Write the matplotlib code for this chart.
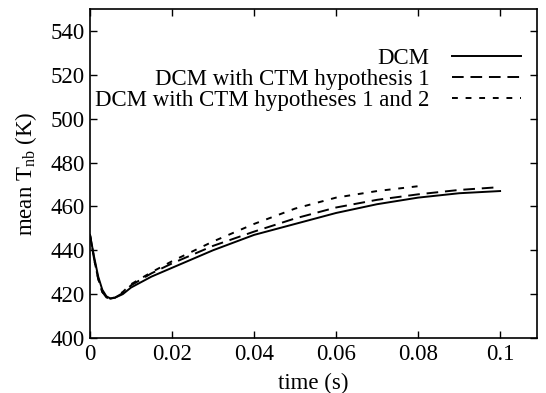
import matplotlib
matplotlib.use("Agg")
import matplotlib.pyplot as plt
import numpy as np

plt.rcParams['font.family'] = ['Liberation Serif', 'DejaVu Serif']
plt.rcParams['mathtext.fontset'] = 'custom'
plt.rcParams['mathtext.rm'] = 'Liberation Serif'
plt.rcParams['mathtext.it'] = 'Liberation Serif:italic'

t_dcm = [0, 0.001, 0.002, 0.003, 0.004, 0.005, 0.006, 0.008, 0.010, 0.015, 0.020,
         0.030, 0.040, 0.050, 0.060, 0.070, 0.080, 0.090, 0.100]
T_dcm = [447, 437, 428, 422, 419, 418, 418.3, 420, 423, 428, 432,
         440, 447, 452, 457, 461, 464, 466, 467]

t_h1 = [0, 0.001, 0.002, 0.003, 0.004, 0.005, 0.006, 0.008, 0.010, 0.015, 0.020,
        0.030, 0.040, 0.050, 0.060, 0.070, 0.080, 0.090, 0.100]
T_h1 = [447, 436, 427, 421, 418.5, 417.8, 418.3, 420.5, 424, 429.5, 434,
        442, 448.5, 454.5, 459.5, 463, 465.5, 467.5, 468.8]

t_h12 = [0, 0.001, 0.002, 0.003, 0.004, 0.005, 0.006, 0.008, 0.010, 0.015, 0.020,
         0.030, 0.040, 0.050, 0.060, 0.070, 0.080]
T_h12 = [447, 436, 427, 421, 418.5, 418, 418.5, 421, 424.5, 430, 435,
         444, 452, 459, 464, 467, 469.2]

labels = ['DCM', 'DCM with CTM hypothesis 1', 'DCM with CTM hypotheses 1 and 2']
xticks = [0, 0.02, 0.04, 0.06, 0.08, 0.1]
xticklabels = ['0', '0.02', '0.04', '0.06', '0.08', '0.1']
yticks = [400, 420, 440, 460, 480, 500, 520, 540]

FS = 16.5

fig = plt.figure(figsize=(5.46, 3.93), dpi=100)
ax = fig.add_axes([90/546, 55/393, (537-90)/546, (338-9)/393])

ax.plot(t_dcm, T_dcm, color='black', lw=1.4, ls='-', label=labels[0])
ax.plot(t_h1, T_h1, color='black', lw=1.4, ls=(0, (6, 3.5)), label=labels[1])
ax.plot(t_h12, T_h12, color='black', lw=1.4, ls=(0, (3, 4)), label=labels[2])

ax.set_xlim(0, 0.109)
ax.set_ylim(400, 550)
ax.set_xticks(xticks)
ax.set_xticklabels(xticklabels)
ax.set_yticks(yticks)
ax.tick_params(direction='in', length=5, width=1, top=True, right=True,
               labelsize=FS, pad=4)
for s in ax.spines.values():
    s.set_linewidth(1.2)

ax.set_xlabel('time (s)', fontsize=FS, labelpad=6)
ax.set_ylabel(r'mean T$_{\rm nb}$ (K)', fontsize=FS, labelpad=8)

leg = ax.legend(loc='upper right', bbox_to_anchor=(0.985, 0.91), frameon=False,
                markerfirst=False, fontsize=FS, handlelength=3.0,
                handletextpad=1.0, labelspacing=0.0, borderaxespad=0)

fig.savefig('out.png', dpi=100)
